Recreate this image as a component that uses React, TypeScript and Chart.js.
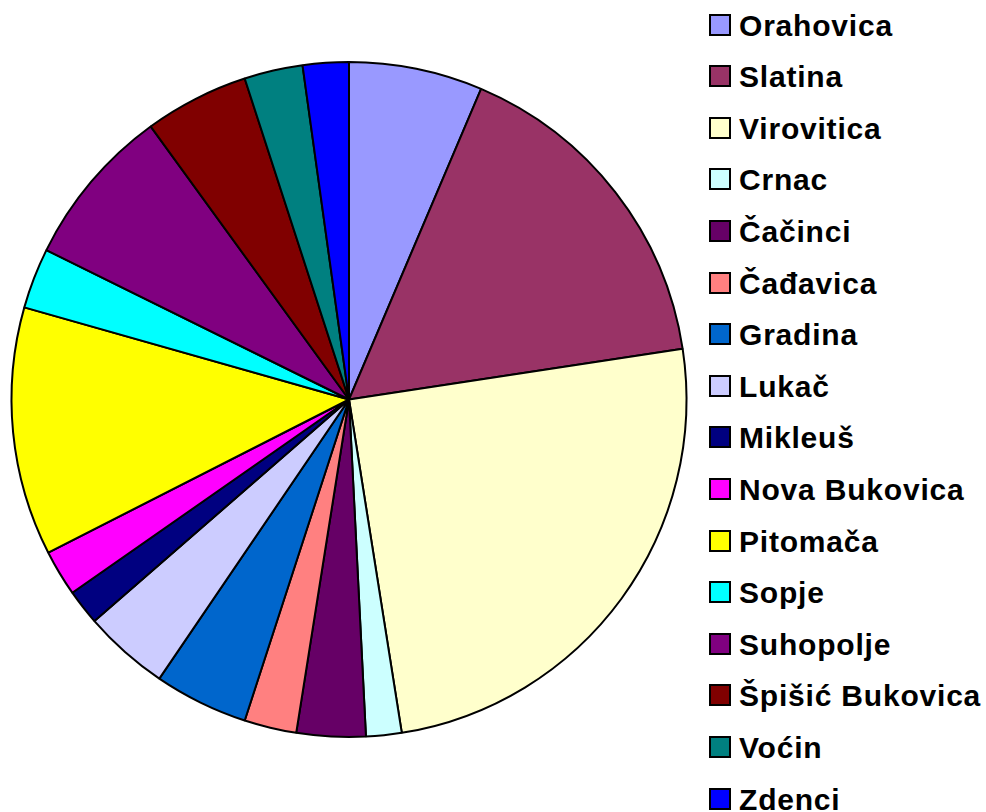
import React, { useEffect, useRef } from "react";
import { Chart, registerables } from "chart.js";

Chart.register(...registerables);

const categories: string[] = [
  "Orahovica",
  "Slatina",
  "Virovitica",
  "Crnac",
  "Čačinci",
  "Čađavica",
  "Gradina",
  "Lukač",
  "Mikleuš",
  "Nova Bukovica",
  "Pitomača",
  "Sopje",
  "Suhopolje",
  "Špišić Bukovica",
  "Voćin",
  "Zdenci",
];

// share of total (%)
const shares: number[] = [6.4, 16.2, 24.9, 1.7, 3.3, 2.5, 4.5, 4.1, 1.7, 2.2, 11.9, 2.9, 7.7, 5.0, 2.8, 2.2];

const colors: string[] = [
  "#9999FF",
  "#993366",
  "#FFFFCC",
  "#CCFFFF",
  "#660066",
  "#FF8080",
  "#0066CC",
  "#CCCCFF",
  "#000080",
  "#FF00FF",
  "#FFFF00",
  "#00FFFF",
  "#800080",
  "#800000",
  "#008080",
  "#0000FF",
];

const ITEM_STEP = 51.6;

export default function App() {
  const canvasRef = useRef<HTMLCanvasElement | null>(null);

  useEffect(() => {
    if (!canvasRef.current) return;
    const chart = new Chart(canvasRef.current, {
      type: "pie",
      data: {
        labels: categories,
        datasets: [
          {
            data: shares,
            backgroundColor: colors,
            borderColor: "#000000",
            borderWidth: 2,
            radius: 337.5,
          },
        ],
      },
      options: {
        responsive: false,
        maintainAspectRatio: false,
        animation: false,
        layout: { padding: { left: 11.5, top: 62, right: 13.5, bottom: 75 } },
        plugins: {
          legend: { display: false },
          tooltip: { enabled: false },
        },
      },
    });
    return () => chart.destroy();
  }, []);

  return (
    <div
      style={{
        position: "absolute",
        left: 0,
        top: 0,
        width: 986,
        height: 812,
        overflow: "hidden",
        background: "#ffffff",
      }}
    >
      <canvas
        ref={canvasRef}
        width={700}
        height={812}
        style={{ position: "absolute", left: 0, top: 0, width: 700, height: 812 }}
      />
      {categories.map((name, i) => (
        <React.Fragment key={name}>
          <div
            style={{
              position: "absolute",
              left: 709,
              top: 13.5 + i * ITEM_STEP,
              width: 22,
              height: 22,
              boxSizing: "border-box",
              border: "2px solid #000",
              background: colors[i],
            }}
          />
          <div
            style={{
              position: "absolute",
              left: 739,
              top: 10.6 + i * ITEM_STEP,
              font: "bold 30px Arial, 'Liberation Sans', sans-serif",
              lineHeight: "30px",
              letterSpacing: "0.8px",
              whiteSpace: "nowrap",
              color: "#000",
            }}
          >
            {name}
          </div>
        </React.Fragment>
      ))}
    </div>
  );
}
